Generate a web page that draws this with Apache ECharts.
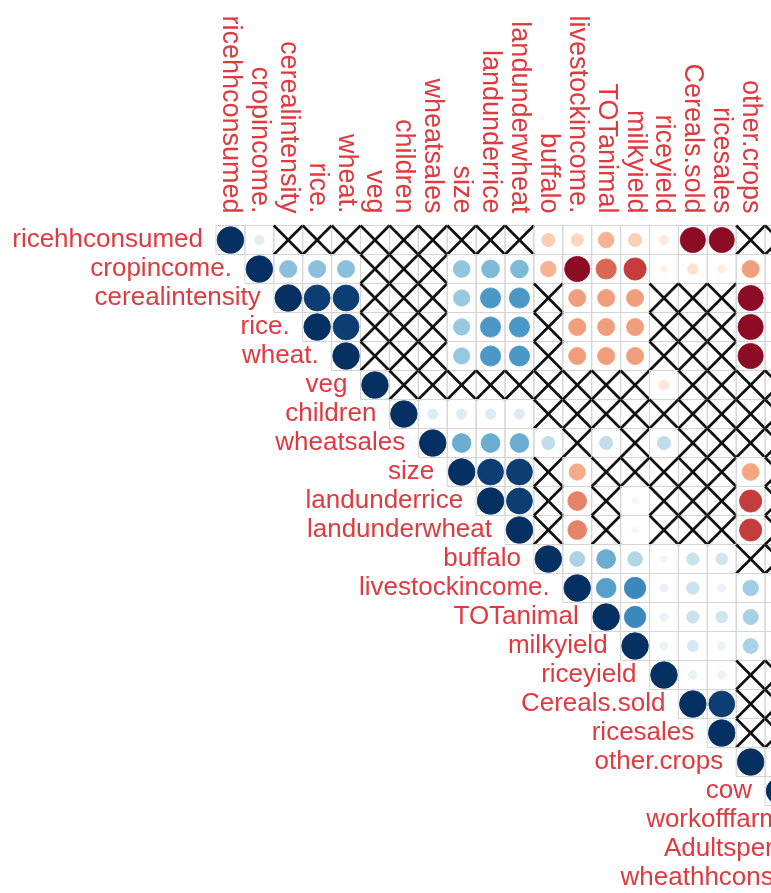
<!DOCTYPE html>
<html>
<head>
<meta charset="utf-8">
<script src="https://cdn.jsdelivr.net/npm/echarts@6/dist/echarts.min.js"></script>
<style>
html,body{margin:0;padding:0;background:#ffffff;}
#chart{width:771px;height:893px;}
</style>
</head>
<body>
<div id="chart"></div>
<script>
// ---- variable names (rows / columns of the correlation matrix) ----
const variables = ["ricehhconsumed","cropincome.","cerealintensity","rice.","wheat.","veg","children","wheatsales","size","landunderrice","landunderwheat","buffalo","livestockincome.","TOTanimal","milkyield","riceyield","Cereals.sold","ricesales","other.crops","cow","workofffarm","Adultsperhh.","wheathhconsumed"];

// ---- upper-triangle correlations, each row starting at its diagonal cell ----
// X (null) = insignificant correlation, drawn as a cross
const X = null;
const r00 = [1, 0.13, X, X, X, X, X, X, X, X, X, -0.25, -0.22, -0.35, -0.25, -0.12, -0.9, -0.9, X, X];
const r01 = [1, 0.42, 0.42, 0.42, X, X, X, 0.4, 0.45, 0.45, -0.35, -0.9, -0.58, -0.7, -0.07, -0.16, -0.1, -0.42, -0.1];
const r02 = [1, 0.95, 0.95, X, X, X, 0.38, 0.58, 0.58, X, -0.42, -0.42, -0.42, X, X, X, -0.9, 0.1];
const r03 = [1, 0.95, X, X, X, 0.38, 0.58, 0.58, X, -0.42, -0.42, -0.42, X, X, X, -0.9, 0.1];
const r04 = [1, X, X, X, 0.38, 0.58, 0.58, X, -0.42, -0.42, -0.42, X, X, X, -0.9, 0.1];
const r05 = [1, X, X, X, X, X, X, X, X, X, -0.14, X, X, X, X];
const r06 = [1, 0.15, 0.15, 0.15, 0.15, X, X, X, X, X, X, X, X, X];
const r07 = [1, 0.5, 0.5, 0.5, 0.25, X, 0.25, X, 0.25, X, X, X, X];
const r08 = [1, 0.95, 0.95, X, -0.38, X, X, X, X, X, -0.4, X];
const r09 = [1, 0.95, X, -0.5, X, -0.06, X, X, X, -0.7, X];
const r10 = [1, X, -0.5, X, -0.06, X, X, X, -0.7, X];
const r11 = [1, 0.32, 0.5, 0.3, 0.08, 0.22, 0.2, X, X];
const r12 = [1, 0.55, 0.65, 0.1, 0.22, 0.1, 0.35, 0.3];
const r13 = [1, 0.65, 0.1, 0.22, 0.2, 0.33, 0.3];
const r14 = [1, 0.1, 0.18, 0.1, 0.32, 0.3];
const r15 = [1, 0.1, 0.1, X, X];
const r16 = [1, 0.95, X, X];
const r17 = [1, X, X];
const r18 = [1, 0.25];
const r19 = [1];
const r20 = [1];
const r21 = [1];
const r22 = [1];
const corrRows = [r00,r01,r02,r03,r04,r05,r06,r07,r08,r09,r10,r11,r12,r13,r14,r15,r16,r17,r18,r19,r20,r21,r22];

// ---- colour ramp (corrplot default, -1 .. 1) ----
const palette = ["#67001F","#B2182B","#D6604D","#F4A582","#FDDBC7","#FFFFFF","#D1E5F0","#92C5DE","#4393C3","#2166AC","#053061"];
function hexToRgb(h){ return [parseInt(h.substr(1,2),16),parseInt(h.substr(3,2),16),parseInt(h.substr(5,2),16)]; }
function corrColor(v){
  const t = (v + 1) / 2 * (palette.length - 1);
  const k = Math.max(0, Math.min(Math.floor(t), palette.length - 2));
  const f = t - k;
  const a = hexToRgb(palette[k]), b = hexToRgb(palette[k+1]);
  const c = a.map((x,i)=>Math.round(x + (b[i]-x)*f));
  return 'rgb(' + c.join(',') + ')';
}

// ---- build cell data ----
const cells = [];
corrRows.forEach((row, i) => {
  row.forEach((v, k) => {
    const j = i + k;
    cells.push([j, i, v === null ? 0 : v, v === null ? 1 : 0]);
  });
});
const diagLabels = variables.map((name, i) => [i, i, name]);

const labelColor = '#e0393f';
const fontFam = '"Liberation Sans", Arial, sans-serif';

const chart = echarts.init(document.getElementById('chart'), null, {renderer: 'canvas'});
chart.setOption({
  animation: false,
  backgroundColor: '#ffffff',
  grid: {left: 216, top: 225.5, width: 664.7, height: 667, containLabel: false, outerBoundsMode: 'none'},
  xAxis: {
    type: 'category',
    data: variables,
    position: 'top',
    axisLine: {show: false},
    axisTick: {show: false},
    splitLine: {show: false},
    axisLabel: {rotate: 90, interval: 0, margin: 12, fontSize: 27, color: labelColor, fontFamily: fontFam}
  },
  yAxis: {
    type: 'category',
    data: variables,
    inverse: true,
    show: false
  },
  series: [
    {
      type: 'custom',
      coordinateSystem: 'cartesian2d',
      data: cells,
      clip: false,
      renderItem: function(params, api){
        const j = api.value(0), i = api.value(1), v = api.value(2), ins = api.value(3);
        const c = api.coord([j, i]);
        const s = api.size([1, 1]);
        const w = s[0], h = s[1];
        const ch = [{
          type: 'rect',
          shape: {x: c[0]-w/2, y: c[1]-h/2, width: w, height: h},
          style: {fill: null, stroke: '#d4d4d4', lineWidth: 1}
        }];
        if (!ins) {
          const rad = 0.46 * Math.sqrt(Math.abs(v)) * Math.min(w, h);
          const col = corrColor(v);
          ch.push({type: 'circle', shape: {cx: c[0], cy: c[1], r: rad}, style: {fill: col, stroke: col, lineWidth: 0.8}});
        } else {
          ch.push({type: 'line', shape: {x1: c[0]-w/2, y1: c[1]-h/2, x2: c[0]+w/2, y2: c[1]+h/2}, style: {stroke: '#111111', lineWidth: 2.7}});
          ch.push({type: 'line', shape: {x1: c[0]-w/2, y1: c[1]+h/2, x2: c[0]+w/2, y2: c[1]-h/2}, style: {stroke: '#111111', lineWidth: 2.7}});
        }
        return {type: 'group', children: ch};
      },
      z: 2
    },
    {
      type: 'custom',
      coordinateSystem: 'cartesian2d',
      data: diagLabels,
      clip: false,
      renderItem: function(params, api){
        const j = api.value(0), i = api.value(1);
        const c = api.coord([j, i]);
        const s = api.size([1, 1]);
        return {
          type: 'text',
          x: c[0] - s[0]/2 - 13,
          y: c[1],
          style: {
            text: variables[params.dataIndex],
            fill: labelColor,
            align: 'right',
            verticalAlign: 'middle',
            fontSize: 26,
            fontFamily: fontFam
          }
        };
      },
      z: 3
    }
  ]
});
</script>
</body>
</html>
